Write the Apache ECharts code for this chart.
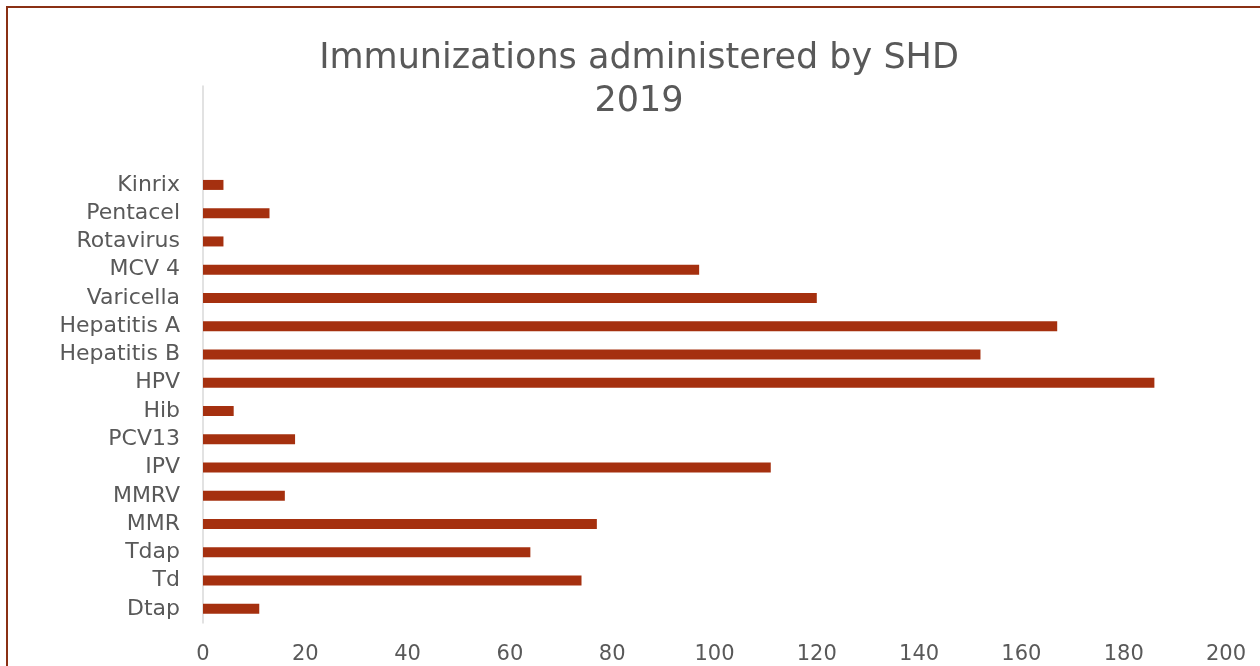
<!DOCTYPE html>
<html>
<head>
<meta charset="utf-8">
<script src="https://cdn.jsdelivr.net/npm/echarts@6/dist/echarts.min.js"></script>
<style>
  html, body { margin: 0; padding: 0; background: #fff; }
  #main { width: 1260px; height: 666px; }
</style>
</head>
<body>
<div id="main"></div>
<script>
// categories listed bottom-up, as in the source sheet
var vaccines = ['Dtap', 'Td', 'Tdap', 'MMR', 'MMRV', 'IPV', 'PCV13', 'Hib', 'HPV',
    'Hepatitis B', 'Hepatitis A', 'Varicella', 'MCV 4', 'Rotavirus', 'Pentacel', 'Kinrix'];
var doses = [11, 74, 64, 77, 16, 111, 18, 6, 186, 152, 167, 120, 97, 4, 13, 4];
var xTicks = { min: 0, max: 200, step: 20 };

var chart = echarts.init(document.getElementById('main'));
var grey = '#595959';
var font = 'DejaVu Sans';

var option = {
    backgroundColor: '#fff',
    animation: false,
    title: {
        text: 'Immunizations administered by SHD\n2019',
        left: 634,
        textAlign: 'center',
        top: 32,
        textStyle: {
            fontFamily: font,
            fontWeight: 'normal',
            fontSize: 35,
            lineHeight: 43,
            color: grey
        }
    },
    graphic: [{
        type: 'rect',
        shape: { x: 7, y: 7, width: 1400, height: 800 },
        style: { fill: 'none', stroke: '#8a3014', lineWidth: 2 },
        silent: true
    }],
    grid: { left: 203, right: 34, top: 86, bottom: 43, containLabel: false },
    xAxis: {
        type: 'value',
        min: xTicks.min,
        max: xTicks.max,
        interval: xTicks.step,
        splitLine: { show: false },
        axisLine: { show: false },
        axisTick: { show: false },
        axisLabel: { fontFamily: font, fontSize: 21, color: grey, margin: 21 }
    },
    yAxis: {
        type: 'category',
        data: vaccines,
        max: 18,
        axisLine: { show: true, lineStyle: { color: '#d9d9d9', width: 1.5 } },
        axisTick: { show: false },
        axisLabel: {
            interval: 0,
            fontFamily: font, fontSize: 22, color: grey, margin: 23,
            formatter: function (v) { return (v == null || v === 'undefined') ? '' : v; }
        }
    },
    series: [{
        type: 'bar',
        data: doses,
        barWidth: 10,
        itemStyle: { color: '#a5300f' }
    }]
};
chart.setOption(option);
</script>
</body>
</html>
